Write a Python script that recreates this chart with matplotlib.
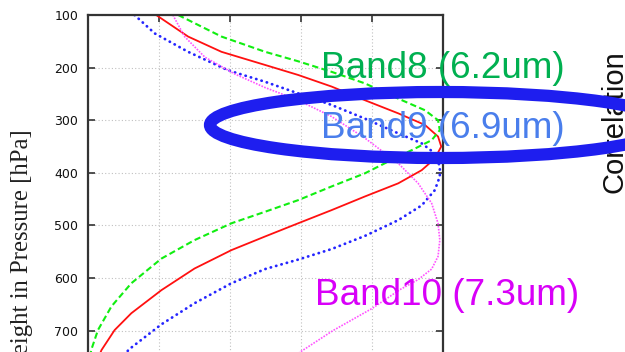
import matplotlib
matplotlib.use('Agg')
import matplotlib.pyplot as plt
from matplotlib.patches import Ellipse

# weighting functions (normalised) against pressure level
red_x = [0.192, 0.282, 0.376, 0.499, 0.592, 0.686, 0.780, 0.874, 0.949, 0.986, 0.995,
         0.977, 0.940, 0.874, 0.780, 0.686, 0.592, 0.499, 0.404, 0.30, 0.207, 0.122,
         0.075, 0.038, 0.03]
red_p = [100, 141, 170, 195, 214, 236, 262, 287, 309, 331, 350,
         373, 395, 420, 445, 471, 496, 521, 547, 582, 623, 667,
         699, 737, 750]

green_x = [0.254, 0.376, 0.499, 0.592, 0.686, 0.780, 0.874, 0.949, 0.986, 0.991, 0.968,
           0.912, 0.874, 0.780, 0.686, 0.592, 0.499, 0.404, 0.30, 0.207, 0.122, 0.066,
           0.028, 0.009, 0.006]
green_p = [100, 141, 170, 188, 208, 230, 259, 281, 300, 319, 338,
           357, 369, 401, 426, 452, 474, 496, 528, 563, 610, 654,
           699, 737, 750]

blue_x = [0.131, 0.188, 0.282, 0.394, 0.499, 0.592, 0.686, 0.780, 0.874, 0.940, 0.977,
          0.991, 0.991, 0.977, 0.940, 0.874, 0.780, 0.686, 0.592, 0.499, 0.404, 0.30,
          0.207, 0.113, 0.105]
blue_p = [100, 135, 170, 205, 227, 249, 271, 297, 325, 344, 363,
          388, 407, 433, 462, 490, 520, 545, 565, 583, 610, 648,
          688, 737, 750]

magenta_x = [0.239, 0.272, 0.329, 0.413, 0.499, 0.592, 0.686, 0.780, 0.874, 0.930, 0.968,
             0.986, 0.991, 0.986, 0.968, 0.930, 0.879, 0.80, 0.69, 0.597, 0.58]
magenta_p = [100, 141, 180, 212, 238, 262, 293, 334, 382, 420, 458,
             496, 528, 559, 583, 603, 622, 658, 700, 741, 750]

p_ticks = [100, 200, 300, 400, 500, 600, 700]
x_ticks = [0, 0.2, 0.4, 0.6, 0.8, 1.0]

band_labels = ['Band8 (6.2um)', 'Band9 (6.9um)', 'Band10 (7.3um)']
band_colors = ['#00b050', '#4a7eec', '#d800f8']

W, H = 625, 352
fig = plt.figure(figsize=(W / 100, H / 100), dpi=100)

# axes runs from 100 hPa at the top down past the bottom edge
top_px, px_per_100 = 15, 52.6
p_max = 800
bottom_px = top_px + (p_max - 100) / 100 * px_per_100
ax = fig.add_axes([88 / W, 1 - bottom_px / H, (443 - 88) / W, (bottom_px - top_px) / H])

ax.plot(red_x, red_p, color='#ff1010', lw=1.3)
ax.plot(green_x, green_p, color='#11ee11', lw=1.5, linestyle=(0, (3.0, 1.6)))
ax.plot(blue_x, blue_p, color='#2525ff', lw=2.0, linestyle=(0, (0.1, 1.9)),
        dash_capstyle='round')
ax.plot(magenta_x, magenta_p, color='#ff55ff', lw=1.2, linestyle=(0, (1, 0.8)))

ax.set_xlim(0, 1)
ax.set_ylim(p_max, 100)
ax.set_yticks(p_ticks)
ax.set_xticks(x_ticks)
ax.set_xticklabels([])
ax.tick_params(axis='both', direction='in', length=5, width=1.2, color='#333333',
               top=True, right=True, pad=7, labelsize=9, labelcolor='#111111')
for lab in ax.get_yticklabels():
    lab.set_family('DejaVu Sans')
for s in ax.spines.values():
    s.set_linewidth(1.6)
    s.set_color('#333333')
ax.grid(True, color='#c0c0c0', lw=0.8, linestyle=(0, (1, 2)))

# axis titles
fig.text(28 / W, 1 - 372 / H, 'Height in Pressure [hPa]', rotation=90,
         rotation_mode='anchor', ha='left', va='baseline', fontsize=17.8,
         family='Liberation Serif', color='#222222')
fig.text(623 / W, 1 - 193 / H, 'Correlation', rotation=90, rotation_mode='anchor',
         ha='left', va='baseline', fontsize=21, family='Liberation Sans',
         color='#111111', zorder=3)

# band names
fig.text(321 / W, 1 - 78 / H, band_labels[0], color=band_colors[0], fontsize=26.6,
         family='Liberation Sans', ha='left', va='baseline', zorder=6)
fig.text(321 / W, 1 - 138 / H, band_labels[1], color=band_colors[1], fontsize=26.6,
         family='Liberation Sans', ha='left', va='baseline', zorder=6)
fig.text(315 / W, 1 - 305 / H, band_labels[2], color=band_colors[2], fontsize=26.6,
         family='Liberation Sans', ha='left', va='baseline', zorder=6)

# highlight ring round Band9
ring = Ellipse((440 / W, 1 - 125 / H), 460 / W, 66 / H, transform=fig.transFigure,
               fill=False, edgecolor='#1e1eef', linewidth=8.8, zorder=5)
fig.add_artist(ring)

fig.savefig('out.png', dpi=100)
